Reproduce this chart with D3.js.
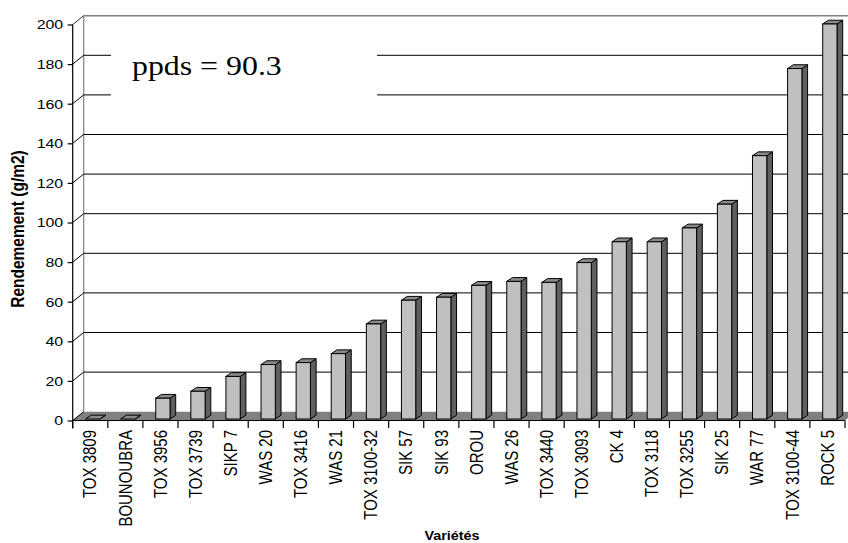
<!DOCTYPE html>
<html>
<head>
<meta charset="utf-8">
<script src="https://cdn.jsdelivr.net/npm/d3@7"></script>
<style>
  html, body { margin: 0; padding: 0; background: #fff; }
  svg { display: block; }
</style>
</head>
<body>
<svg id="chart" width="848" height="543"></svg>
<script>
// Yield per variety (g/m2)
const categories = ["TOX 3809", "BOUNOUBRA", "TOX 3956", "TOX 3739", "SIKP 7", "WAS 20",
  "TOX 3416", "WAS 21", "TOX 3100-32", "SIK 57", "SIK 93", "OROU", "WAS 26", "TOX 3440",
  "TOX 3093", "CK 4", "TOX 3118", "TOX 3255", "SIK 25", "WAR 77", "TOX 3100-44", "ROCK 5"];
const yields = [0, 0, 10.5, 14, 21.5, 27.5, 28.5, 33, 48, 60, 61.5, 67.5, 69.5, 69,
  79, 89.5, 89.5, 96.5, 108.5, 133, 177, 199.5];
const yTicks = [0, 20, 40, 60, 80, 100, 120, 140, 160, 180, 200];
const yTitle = "Rendemement (g/m2)";
const xTitle = "Variétés";
const note = "ppds = 90.3";

const SANS = "'Liberation Sans', Arial, sans-serif";
const SERIF = "'Liberation Serif', 'Times New Roman', serif";
const SX = 1.18; // horizontal text stretch

const svg = d3.select("#chart");

const x = d3.scaleBand().domain(categories).range([72.7, 845]).padding(0);
const y = d3.scaleLinear().domain([0, 200]).range([420.5, 24.5]);

// depth of the walls / floor
const WDX = 11, WDY = -8.8;
const x0 = x.range()[0], x1 = x.range()[1];
const line = d3.line();

// left side wall and back wall borders
const walls = svg.append("g");
walls.append("line")
  .attr("x1", x0 + WDX).attr("x2", x0 + WDX)
  .attr("y1", y(200) + WDY).attr("y2", y(0) + WDY)
  .attr("stroke", "#808080").attr("stroke-width", 1.2);
walls.append("line")
  .attr("x1", x0 + WDX).attr("x2", x1 + WDX)
  .attr("y1", y(200) + WDY).attr("y2", y(200) + WDY)
  .attr("stroke", "#808080").attr("stroke-width", 1.5);

// gridlines on the back wall and their diagonals on the side wall
const grid = svg.append("g");
yTicks.filter(v => v > 0 && v < 200).forEach(v => {
  grid.append("path")
    .attr("d", line([[x0, y(v)], [x0 + WDX, y(v) + WDY], [x1 + WDX, y(v) + WDY]]))
    .attr("fill", "none").attr("stroke", "#000").attr("stroke-width", 1);
});
grid.append("path")
  .attr("d", line([[x0, y(200)], [x0 + WDX, y(200) + WDY]]))
  .attr("fill", "none").attr("stroke", "#333").attr("stroke-width", 1);

// floor
svg.append("path")
  .attr("d", line([[x0, y(0)], [x1, y(0)], [x1 + WDX, y(0) + WDY], [x0 + WDX, y(0) + WDY]]) + "Z")
  .attr("fill", "#808080").attr("stroke", "none");
svg.append("path")
  .attr("d", line([[x0, y(0)], [x0 + WDX, y(0) + WDY]]))
  .attr("stroke", "#000").attr("stroke-width", 1);

// note box with least significant difference
const noteG = svg.append("g");
noteG.append("rect")
  .attr("x", 111).attr("y", 30).attr("width", 266).attr("height", 88)
  .attr("fill", "#fff");
noteG.append("text")
  .attr("transform", `translate(132,75) scale(${SX},1)`)
  .attr("font-family", SERIF).attr("font-size", 27)
  .attr("fill", "#000")
  .text(note);

// 3D columns
const BW = 14.3, BDX = 5.7, BDY = -3.8, OFFX = 2.4, OFFY = -1.5;
const bars = svg.append("g").selectAll("g")
  .data(categories.map((c, i) => ({ c, v: yields[i] })))
  .join("g");

bars.each(function (d) {
  const g = d3.select(this);
  const cx = x(d.c) + x.bandwidth() / 2;
  const L = cx - BW / 2 + OFFX, R = L + BW;
  const top = y(d.v) + OFFY, bot = y(0) + OFFY;
  g.append("path")
    .attr("d", line([[R, top], [R + BDX, top + BDY], [R + BDX, bot + BDY], [R, bot]]) + "Z")
    .attr("fill", "#5f5f5f").attr("stroke", "#000").attr("stroke-width", 1)
    .attr("stroke-linejoin", "round");
  g.append("path")
    .attr("d", line([[L, top], [L + BDX, top + BDY], [R + BDX, top + BDY], [R, top]]) + "Z")
    .attr("fill", "#8a8a8a").attr("stroke", "#000").attr("stroke-width", 1)
    .attr("stroke-linejoin", "round");
  if (d.v > 0) {
    g.append("rect")
      .attr("x", L).attr("y", top).attr("width", BW).attr("height", bot - top)
      .attr("fill", "#c0c0c0").attr("stroke", "#000").attr("stroke-width", 1);
  }
});

// value axis
const yAxis = svg.append("g")
  .attr("transform", `translate(${x0},0)`)
  .call(d3.axisLeft(y).tickValues(yTicks).tickSize(5).tickSizeOuter(0));
yAxis.select(".domain").attr("stroke", "#000").attr("stroke-width", 1.2)
  .attr("d", `M0,${y(200)}V${y(0) + 8}`);
yAxis.selectAll(".tick line").attr("stroke", "#000").attr("stroke-width", 1.2);
yAxis.selectAll(".tick text")
  .attr("x", 0)
  .attr("transform", `translate(-9.5,0) scale(${SX},1)`)
  .attr("font-family", SANS).attr("font-size", 13.5).attr("fill", "#000");

// category axis
const xAxis = svg.append("g");
xAxis.append("line")
  .attr("x1", x0).attr("x2", x1).attr("y1", y(0)).attr("y2", y(0))
  .attr("stroke", "#000").attr("stroke-width", 1.2);
xAxis.selectAll("line.tk")
  .data(categories.map(c => x(c)).concat([x1]))
  .join("line").attr("class", "tk")
  .attr("x1", d => d).attr("x2", d => d)
  .attr("y1", y(0)).attr("y2", y(0) + 7.5)
  .attr("stroke", "#000").attr("stroke-width", 1.2);
xAxis.selectAll("g.lbl")
  .data(categories)
  .join("g").attr("class", "lbl")
  .attr("transform", d => `translate(${x(d) + x.bandwidth() / 2},430) scale(${SX},1) rotate(-90)`)
  .append("text")
  .attr("text-anchor", "end").attr("dy", "0.35em")
  .attr("font-family", SANS).attr("font-size", 15).attr("fill", "#000")
  .text(d => d);

// axis titles
svg.append("g")
  .attr("transform", `translate(18,229) scale(${SX},1) rotate(-90)`)
  .append("text")
  .attr("text-anchor", "middle").attr("dy", "0.35em")
  .attr("font-family", SANS).attr("font-weight", "bold").attr("font-size", 15.5)
  .attr("fill", "#000")
  .text(yTitle);
svg.append("g")
  .attr("transform", `translate(452,540) scale(1.2,1)`)
  .append("text")
  .attr("text-anchor", "middle")
  .attr("font-family", SANS).attr("font-weight", "bold").attr("font-size", 12)
  .attr("fill", "#000")
  .text(xTitle);
</script>
</body>
</html>
